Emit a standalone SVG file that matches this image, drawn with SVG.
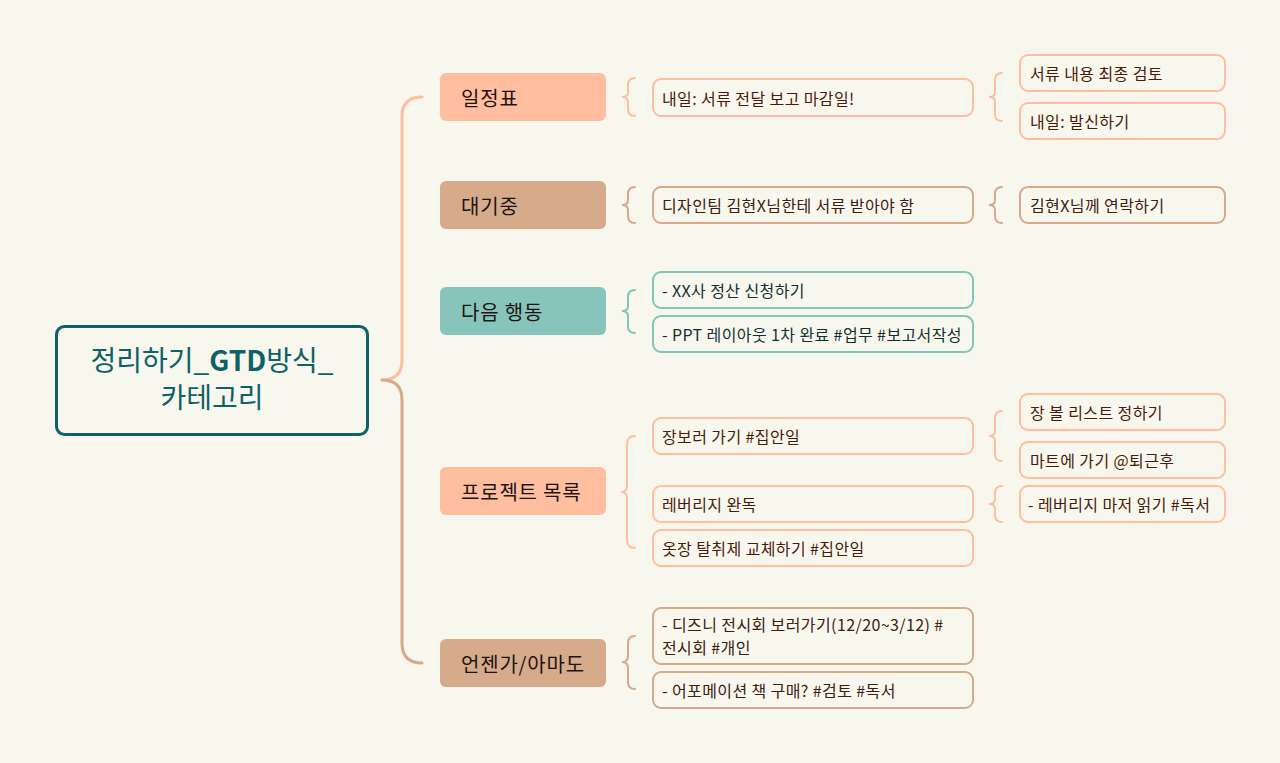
<svg xmlns="http://www.w3.org/2000/svg" width="1280" height="763" viewBox="0 0 1280 763">
<style>
text{font-family:"Noto Sans CJK KR","Noto Sans",sans-serif;dominant-baseline:central}
.bg{fill:#f8f7ed}
.main text{font-size:20px;letter-spacing:0.8px;fill:#1e1410}
.c{font-size:16px;letter-spacing:0.4px}
.box{fill:#f8f7ed;stroke-width:2}
.s .box{stroke:#ffbe9f}.s text{fill:#4a1a0c}
.t .box{stroke:#d6a98a}.t text{fill:#3c2010}
.g .box{stroke:#82c4bc}.g text{fill:#12302e}
.br{fill:none;stroke-width:2;stroke-linecap:round}
</style>
<rect class="bg" x="0" y="0" width="1280" height="763"/>
<g id="connectors">
<path d="M422,97 Q402,97 402,117 L402,360 Q402,380 382,380" fill="none" stroke="#ffbe9f" stroke-width="3" stroke-linecap="round"/>
<path d="M382,380 Q402,380 402,400 L402,643 Q402,663 422,663" fill="none" stroke="#d6a98a" stroke-width="3" stroke-linecap="round"/>
<path class="br" stroke="#ffbe9f" d="M635,78 Q628,78 628,85 L628,92 Q628,97 622,97 Q628,97 628,102 L628,109 Q628,116 635,116"/>
<path class="br" stroke="#d6a98a" d="M635,187 Q628,187 628,194 L628,200 Q628,205 622,205 Q628,205 628,210 L628,216 Q628,223 635,223"/>
<path class="br" stroke="#82c4bc" d="M635,290 Q628,290 628,297 L628,306 Q628,311 622,311 Q628,311 628,316 L628,326 Q628,333 635,333"/>
<path class="br" stroke="#ffbe9f" d="M635,436 Q627,436 627,444 L627,486 Q627,492 621,492 Q627,492 627,498 L627,540 Q627,548 635,548"/>
<path class="br" stroke="#d6a98a" d="M635,636 Q628,636 628,643 L628,656 Q628,662 622,662 Q628,662 628,668 L628,682 Q628,689 635,689"/>
<path class="br" stroke="#ffbe9f" d="M1002,73 Q995,73 995,80 L995,92 Q995,97 989,97 Q995,97 995,102 L995,114 Q995,121 1002,121"/>
<path class="br" stroke="#d6a98a" d="M1002,187 Q995,187 995,194 L995,200 Q995,205 989,205 Q995,205 995,210 L995,216 Q995,223 1002,223"/>
<path class="br" stroke="#ffbe9f" d="M1002,411 Q995,411 995,418 L995,431 Q995,436 989,436 Q995,436 995,441 L995,454 Q995,461 1002,461"/>
<path class="br" stroke="#ffbe9f" d="M1002,486 Q995,486 995,493 L995,499 Q995,504 989,504 Q995,504 995,509 L995,515 Q995,522 1002,522"/>
</g>
<g id="root">
<rect x="56.5" y="326.5" width="311" height="108" rx="8" fill="#f8f7ed" stroke="#0e6166" stroke-width="3"/>
<text x="212" y="359" text-anchor="middle" font-size="28" fill="#0e6166">정리하기_<tspan font-weight="bold">GTD</tspan>방식_</text>
<text x="212" y="396" text-anchor="middle" font-size="28" fill="#0e6166">카테고리</text>
</g>
<g id="n-schedule" class="main"><rect x="440" y="73" width="166" height="48" rx="6" fill="#ffbe9f"/><text x="461" y="97">일정표</text></g>
<g id="n-waiting" class="main"><rect x="440" y="181" width="166" height="48" rx="6" fill="#d6ab8c"/><text x="461" y="205">대기중</text></g>
<g id="n-next" class="main"><rect x="440" y="287" width="166" height="48" rx="6" fill="#86c4bc"/><text x="461" y="311">다음 행동</text></g>
<g id="n-project" class="main"><rect x="440" y="467" width="166" height="48" rx="6" fill="#ffbe9f"/><text x="461" y="491">프로젝트 목록</text></g>
<g id="n-someday" class="main"><rect x="440" y="639" width="166" height="48" rx="6" fill="#d6ab8c"/><text x="461" y="663">언젠가/아마도</text></g>

<g id="c1" class="s"><rect class="box" x="653" y="79" width="320" height="37" rx="8"/><text class="c" x="662" y="97.5">내일: 서류 전달 보고 마감일!</text></g>
<g id="c1a" class="s"><rect class="box" x="1020" y="55" width="205" height="36" rx="8"/><text class="c" x="1030" y="73">서류 내용 최종 검토</text></g>
<g id="c1b" class="s"><rect class="box" x="1020" y="103" width="205" height="36" rx="8"/><text class="c" x="1030" y="121">내일: 발신하기</text></g>

<g id="c2" class="t"><rect class="box" x="653" y="187" width="320" height="36" rx="8"/><text class="c" x="662" y="205">디자인팀 김현X님한테 서류 받아야 함</text></g>
<g id="c2a" class="t"><rect class="box" x="1020" y="187" width="205" height="36" rx="8"/><text class="c" x="1030" y="205">김현X님께 연락하기</text></g>

<g id="c3" class="g"><rect class="box" x="653" y="272" width="320" height="36" rx="8"/><text class="c" x="662" y="290">- XX사 정산 신청하기</text></g>
<g id="c4" class="g"><rect class="box" x="653" y="316" width="320" height="36" rx="8"/><text class="c" x="662" y="334">- PPT 레이아웃 1차 완료 #업무 #보고서작성</text></g>

<g id="c5" class="s"><rect class="box" x="653" y="418" width="320" height="36" rx="8"/><text class="c" x="662" y="436">장보러 가기 #집안일</text></g>
<g id="c5a" class="s"><rect class="box" x="1020" y="394" width="205" height="36" rx="8"/><text class="c" x="1030" y="412">장 볼 리스트 정하기</text></g>
<g id="c5b" class="s"><rect class="box" x="1020" y="442" width="205" height="36" rx="8"/><text class="c" x="1030" y="460">마트에 가기 @퇴근후</text></g>
<g id="c6" class="s"><rect class="box" x="653" y="486" width="320" height="36" rx="8"/><text class="c" x="662" y="504">레버리지 완독</text></g>
<g id="c6a" class="s"><rect class="box" x="1020" y="486" width="205" height="36" rx="8"/><text class="c" x="1028" y="504">- 레버리지 마저 읽기 #독서</text></g>
<g id="c7" class="s"><rect class="box" x="653" y="530" width="320" height="36" rx="8"/><text class="c" x="662" y="548">옷장 탈취제 교체하기 #집안일</text></g>

<g id="c8" class="t"><rect class="box" x="653" y="608" width="320" height="56" rx="8"/><text class="c" x="662" y="624">- 디즈니 전시회 보러가기(12/20~3/12) #</text><text class="c" x="662" y="647">전시회 #개인</text></g>
<g id="c9" class="t"><rect class="box" x="653" y="672" width="320" height="36" rx="8"/><text class="c" x="662" y="690">- 어포메이션 책 구매? #검토 #독서</text></g>
</svg>
